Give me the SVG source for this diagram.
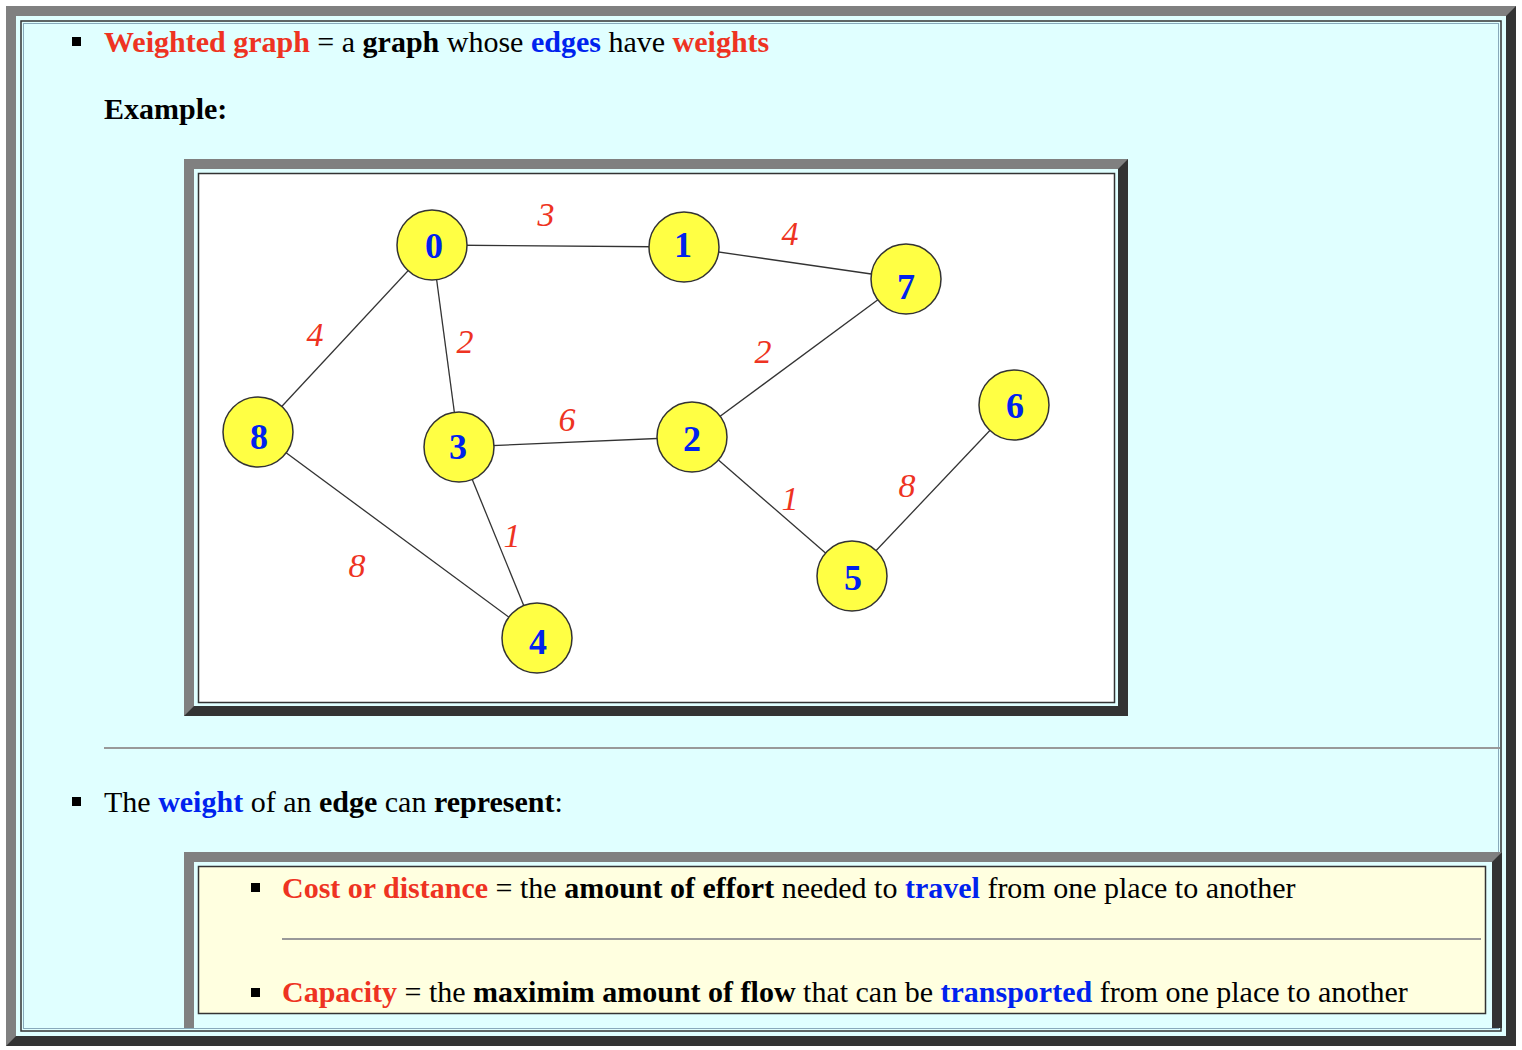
<svg xmlns="http://www.w3.org/2000/svg" width="1522" height="1050" viewBox="0 0 1522 1050">
<style>
.t{font-family:"Liberation Serif",serif;font-size:30px;fill:#000}
.b{font-weight:bold}.r{fill:#ee3322}.u{fill:#0022ee}
.n circle{fill:#ffff44;stroke:#333;stroke-width:1.5}
.n text{font-family:"Liberation Serif",serif;font-weight:bold;font-size:36px;fill:#0022ee;text-anchor:middle}
.w{font-family:"Liberation Serif",serif;font-style:italic;font-size:34px;fill:#ee3322;text-anchor:middle}
#edges line{stroke:#333;stroke-width:1.3}
</style>
<rect width="1522" height="1050" fill="#fff"/>
<rect x="6" y="6" width="1510" height="1040" fill="#333"/>
<polygon points="6,6 1516,6 1506,16 16,16 16,1036 6,1046" fill="#808080"/>
<rect x="16" y="16" width="1490" height="1020" fill="#e0ffff"/>
<rect x="21" y="21" width="1480" height="1010" fill="none" stroke="#333" stroke-width="1.5"/>
<rect x="23.5" y="23.5" width="1475" height="1005" fill="none" stroke="#8ab" stroke-width="1"/>
<rect x="72" y="37" width="9" height="9" fill="#000"/>
<text class="t" x="104" y="52"><tspan class="b r">Weighted graph</tspan> = a <tspan class="b">graph</tspan> whose <tspan class="b u">edges</tspan> have <tspan class="b r">weights</tspan></text>
<text class="t b" x="104" y="119">Example:</text>
<g id="graphbox">
<rect x="184" y="159" width="944" height="557" fill="#333"/>
<polygon points="184,159 1128,159 1118,169 194,169 194,706 184,716" fill="#808080"/>
<rect x="194" y="169" width="924" height="537" fill="#e0ffff"/>
<rect x="198.5" y="173.5" width="916" height="529" fill="#fff" stroke="#333" stroke-width="1.5"/>
</g>
<g id="edges">
<line x1="432" y1="245" x2="684" y2="247"/>
<line x1="684" y1="247" x2="906" y2="279"/>
<line x1="432" y1="245" x2="258" y2="432"/>
<line x1="432" y1="245" x2="459" y2="447"/>
<line x1="906" y1="279" x2="692" y2="437"/>
<line x1="459" y1="447" x2="692" y2="437"/>
<line x1="692" y1="437" x2="852" y2="576"/>
<line x1="1014" y1="405" x2="852" y2="576"/>
<line x1="459" y1="447" x2="537" y2="638"/>
<line x1="258" y1="432" x2="537" y2="638"/>
</g>
<g id="weights">
<text class="w" x="546" y="226">3</text>
<text class="w" x="790" y="245">4</text>
<text class="w" x="315" y="346">4</text>
<text class="w" x="465" y="353">2</text>
<text class="w" x="763" y="363">2</text>
<text class="w" x="567" y="431">6</text>
<text class="w" x="790" y="510">1</text>
<text class="w" x="907" y="497">8</text>
<text class="w" x="512" y="547">1</text>
<text class="w" x="357" y="577">8</text>
</g>
<g id="n0" class="n"><circle cx="432" cy="245" r="35"/><text x="434" y="258">0</text></g>
<g id="n1" class="n"><circle cx="684" cy="247" r="35"/><text x="683" y="257">1</text></g>
<g id="n7" class="n"><circle cx="906" cy="279" r="35"/><text x="906" y="299">7</text></g>
<g id="n8" class="n"><circle cx="258" cy="432" r="35"/><text x="259" y="449">8</text></g>
<g id="n3" class="n"><circle cx="459" cy="447" r="35"/><text x="458" y="459">3</text></g>
<g id="n2" class="n"><circle cx="692" cy="437" r="35"/><text x="692" y="451">2</text></g>
<g id="n6" class="n"><circle cx="1014" cy="405" r="35"/><text x="1015" y="418">6</text></g>
<g id="n5" class="n"><circle cx="852" cy="576" r="35"/><text x="853" y="590">5</text></g>
<g id="n4" class="n"><circle cx="537" cy="638" r="35"/><text x="538" y="654">4</text></g>
<line x1="104" y1="748" x2="1500" y2="748" stroke="#999" stroke-width="2"/>
<rect x="72" y="797" width="9" height="9" fill="#000"/>
<text class="t" x="104" y="812">The <tspan class="b u">weight</tspan> of an <tspan class="b">edge</tspan> can <tspan class="b">represent</tspan>:</text>
<g id="box2">
<rect x="184" y="852" width="1318" height="176" fill="#333"/>
<polygon points="184,852 1502,852 1492,862 194,862 194,1028 184,1028" fill="#808080"/>
<rect x="194" y="862" width="1298" height="166" fill="#e0ffff"/>
<rect x="198.5" y="866.5" width="1287" height="147" fill="#ffffe0" stroke="#333" stroke-width="1.5"/>
</g>
<rect x="251" y="883" width="9" height="9" fill="#000"/>
<text class="t" x="282" y="898"><tspan class="b r">Cost or distance</tspan> = the <tspan class="b">amount of effort</tspan> needed to <tspan class="b u">travel</tspan> from one place to another</text>
<line x1="282" y1="939" x2="1481" y2="939" stroke="#999" stroke-width="2"/>
<rect x="251" y="988" width="9" height="9" fill="#000"/>
<text class="t" x="282" y="1002"><tspan class="b r">Capacity</tspan> = the <tspan class="b">maximim amount of flow</tspan> that can be <tspan class="b u">transported</tspan> from one place to another</text>
</svg>
